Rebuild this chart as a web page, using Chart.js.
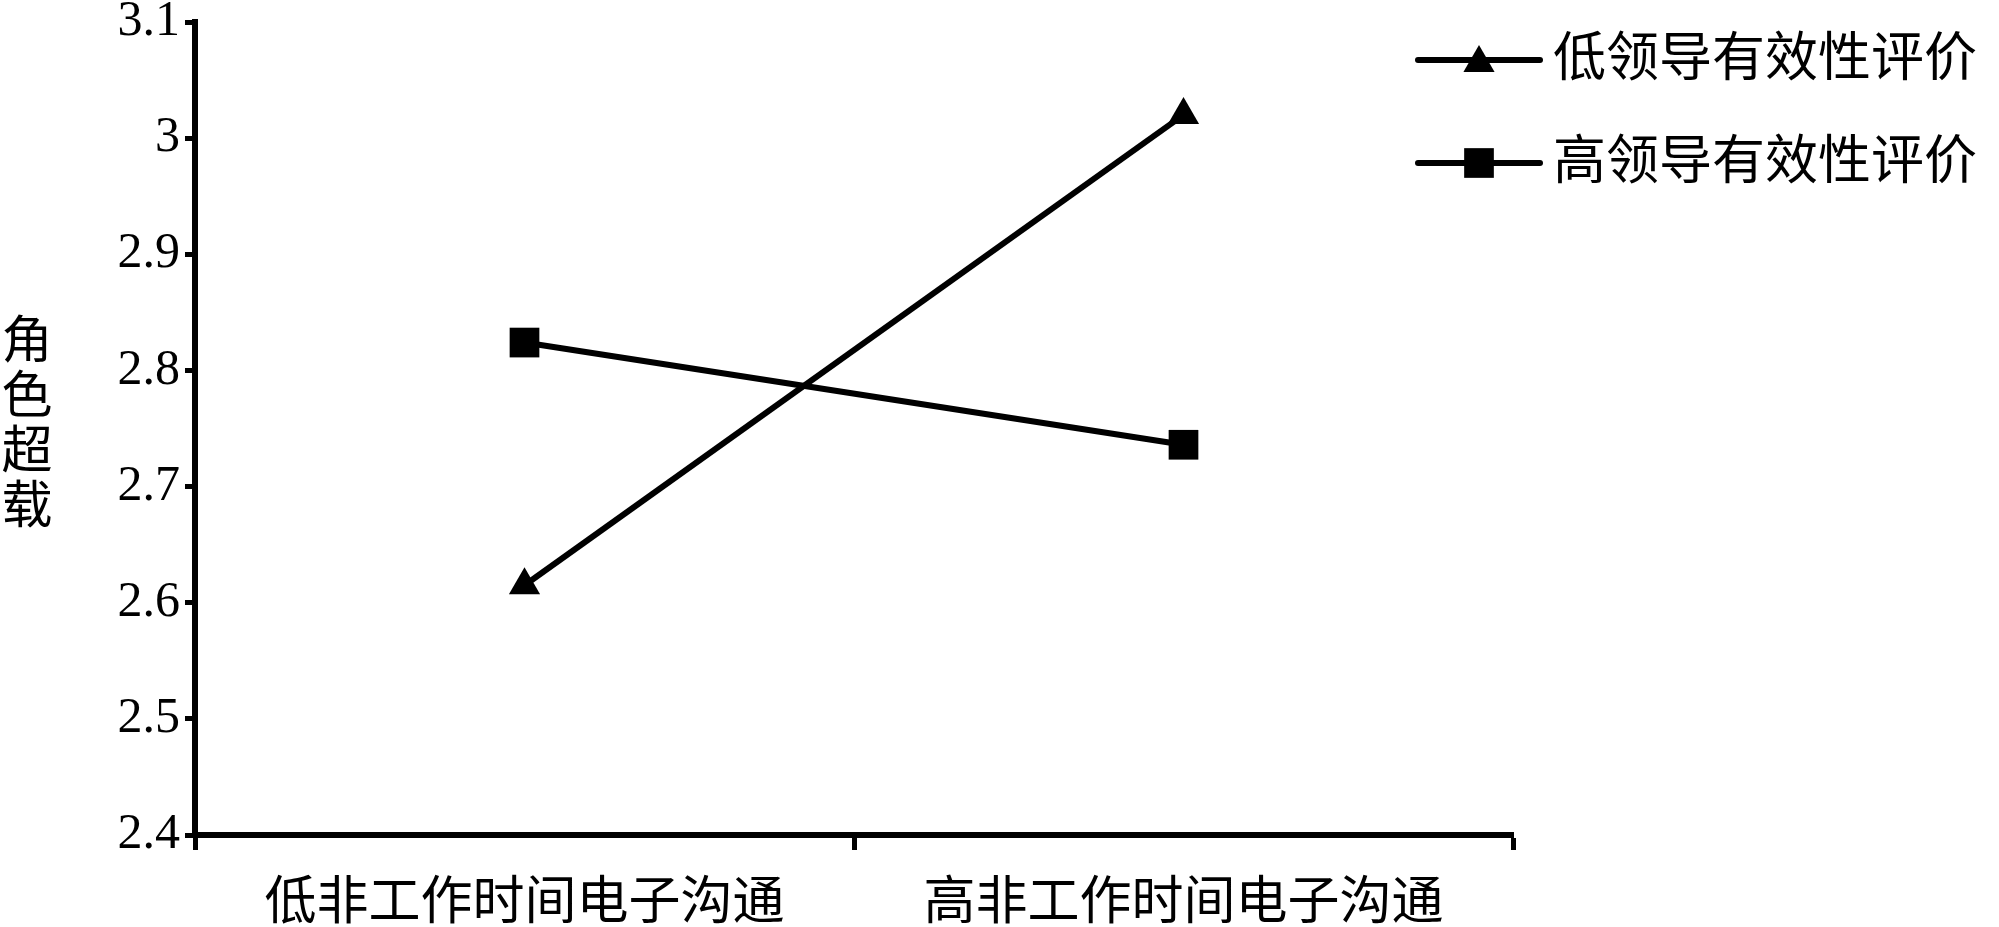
<!DOCTYPE html>
<html>
<head>
<meta charset="utf-8">
<script src="https://cdn.jsdelivr.net/npm/chart.js@4/dist/chart.umd.min.js"></script>
<style>
  html, body { margin: 0; padding: 0; background: #fff; }
  #wrap { width: 1999px; height: 927px; }
</style>
</head>
<body>
<div id="wrap"><canvas id="chart" width="1999" height="927"></canvas></div>
<script>
// categories & series
const categories = ['低非工作时间电子沟通', '高非工作时间电子沟通'];
const lowLeader  = [2.615, 3.02];   // 低领导有效性评价
const highLeader = [2.824, 2.736];  // 高领导有效性评价
const seriesNames = ['低领导有效性评价', '高领导有效性评价'];
const yTitle = ['角', '色', '超', '载'];
const yMin = 2.4, yMax = 3.1, yStep = 0.1;

const FONT = '"Liberation Serif", "Noto Sans CJK SC", serif';

// vertical y title + legend at top right, drawn on canvas
const extras = {
  id: 'extras',
  afterDraw(chart) {
    const ctx = chart.ctx;
    ctx.save();
    ctx.fillStyle = '#000';
    ctx.font = `51px ${FONT}`;
    ctx.textAlign = 'center';
    ctx.textBaseline = 'middle';
    yTitle.forEach((ch, i) => ctx.fillText(ch, 27, 345 + i * 55));

    // legend
    chart.data.datasets.forEach((ds, i) => {
      const y = 60 + i * 103;
      ctx.strokeStyle = ds.borderColor;
      ctx.lineWidth = ds.borderWidth;
      ctx.lineCap = 'round';
      ctx.beginPath();
      ctx.moveTo(1418, y);
      ctx.lineTo(1540, y);
      ctx.stroke();
      ctx.fillStyle = ds.backgroundColor;
      Chart.helpers.drawPoint(ctx, {
        pointStyle: ds.pointStyle, radius: ds.legendRadius, borderWidth: 0
      }, 1479, y + (ds.pointStyle === 'triangle' ? 3 : 0));
      ctx.fillStyle = '#000';
      ctx.font = `53px ${FONT}`;
      ctx.textAlign = 'left';
      ctx.fillText(ds.label, 1553, y + 2);
    });
    ctx.restore();
  }
};

new Chart(document.getElementById('chart'), {
  type: 'line',
  data: {
    labels: categories,
    datasets: [
      {
        label: seriesNames[0], data: lowLeader,
        borderColor: '#000', backgroundColor: '#000', borderWidth: 6,
        pointStyle: 'triangle', pointRadius: 18, pointBorderWidth: 0,
        legendRadius: 18, clip: false
      },
      {
        label: seriesNames[1], data: highLeader,
        borderColor: '#000', backgroundColor: '#000', borderWidth: 6,
        pointStyle: 'rect', pointRadius: 21, pointBorderWidth: 0,
        legendRadius: 21, clip: false
      }
    ]
  },
  options: {
    responsive: false,
    animation: false,
    devicePixelRatio: 1,
    layout: { padding: { left: 115, right: 486, top: 0, bottom: 0 } },
    plugins: { legend: { display: false }, tooltip: { enabled: false } },
    scales: {
      x: {
        offset: true,
        afterFit: s => { s.height = 92; },
        grid: { offset: true, drawOnChartArea: false, drawTicks: true,
                tickLength: 15, color: '#000', tickWidth: 5 },
        border: { display: true, color: '#000', width: 6 },
        ticks: { color: '#000', padding: 24, maxRotation: 0,
                 font: { family: FONT, size: 52 } }
      },
      y: {
        min: yMin, max: yMax,
        afterFit: s => { s.width = 80; s.paddingTop = 22; },
        grid: { drawOnChartArea: false, drawTicks: true, tickLength: 10,
                color: '#000', tickWidth: 5 },
        border: { display: true, color: '#000', width: 6 },
        ticks: { stepSize: yStep, color: '#000', padding: 5,
                 font: { family: FONT, size: 50, lineHeight: 0.5 },
                 callback: v => +v.toFixed(1) + '' }
      }
    }
  },
  plugins: [extras]
});
</script>
</body>
</html>
